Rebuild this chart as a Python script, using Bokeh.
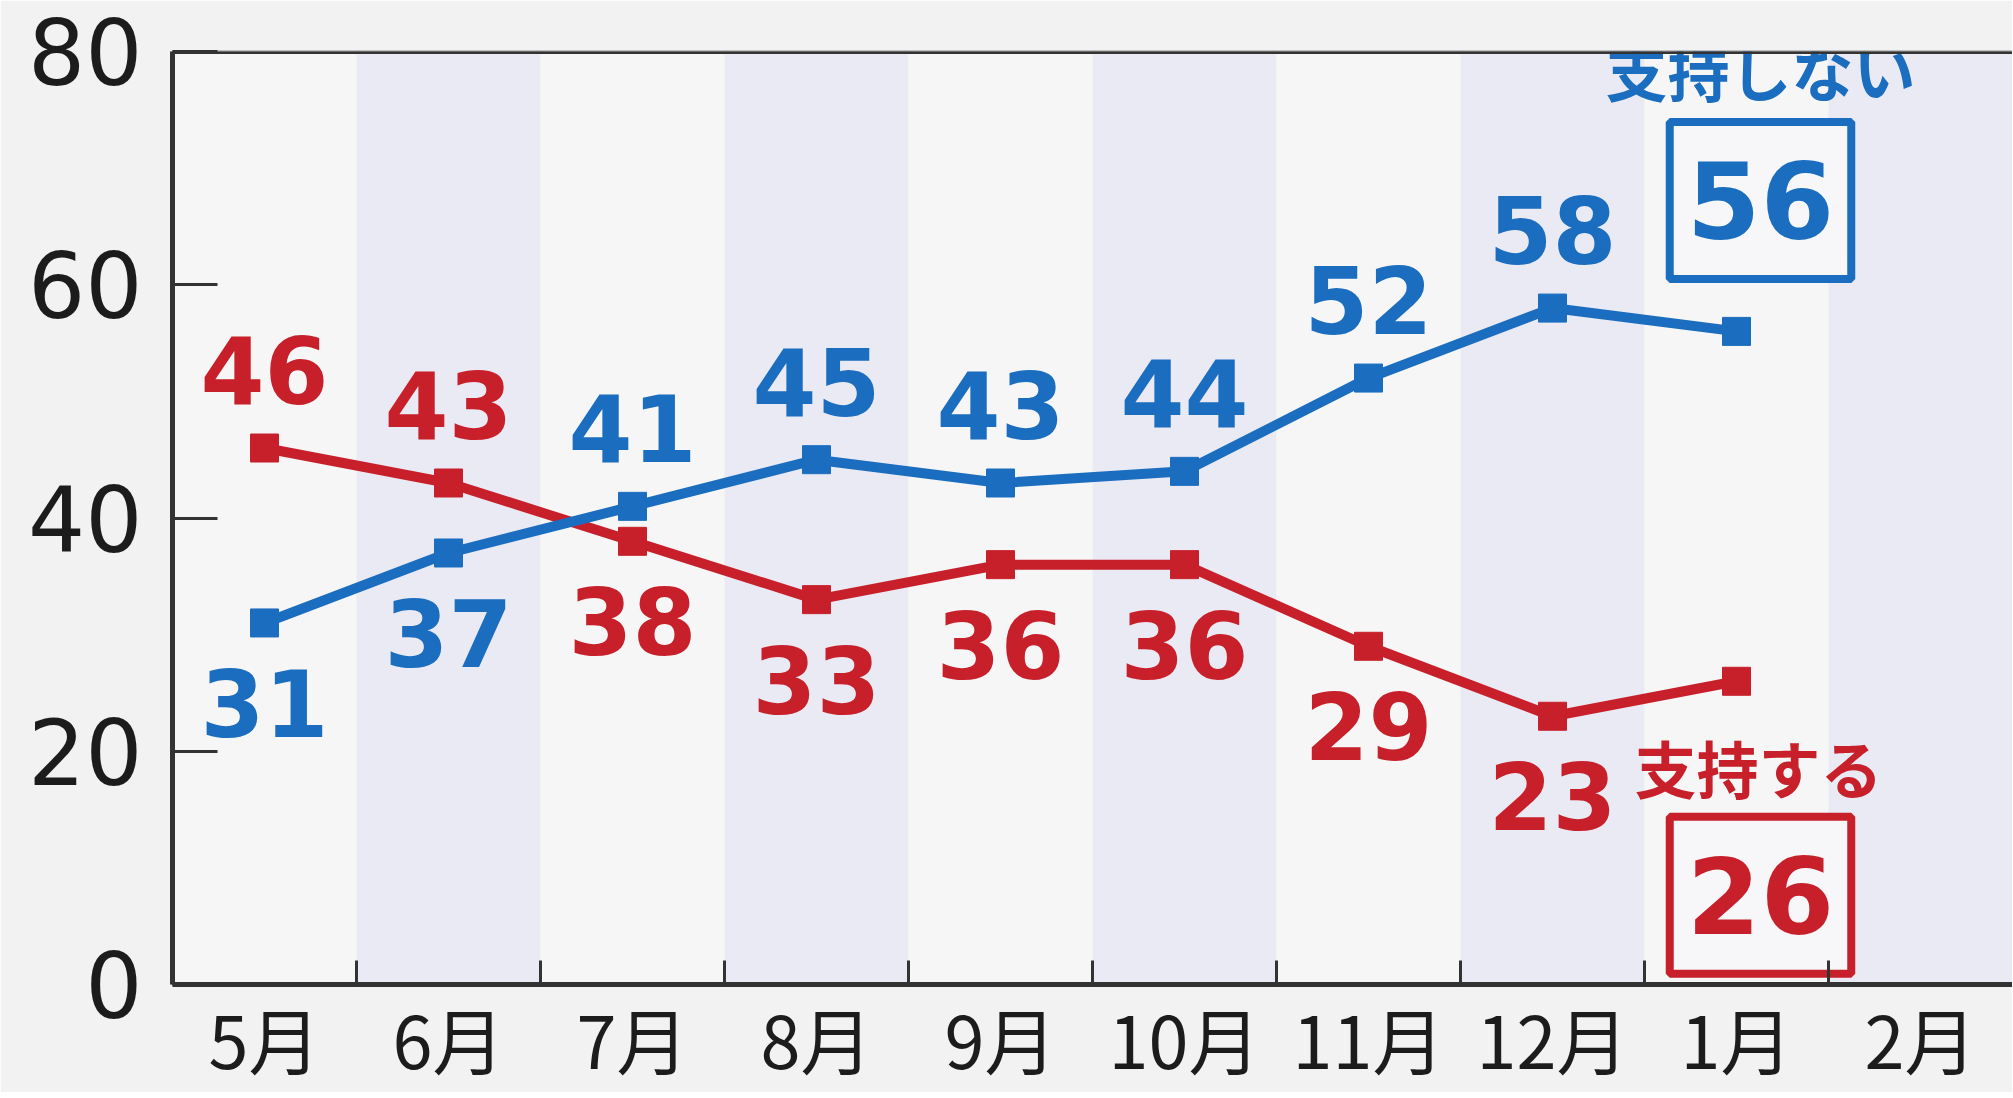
from bokeh.plotting import figure
from bokeh.models import Range1d, FixedTicker, CustomJSTickFormatter, ColumnDataSource, Span
from bokeh.core.properties import value
from bokeh.embed import file_html
from bokeh.resources import INLINE

# ---- data ----
months = ["5月", "6月", "7月", "8月", "9月", "10月", "11月", "12月", "1月", "2月"]
support = [46, 43, 38, 33, 36, 36, 29, 23, 26]          # 支持する
nonsupport = [31, 37, 41, 45, 43, 44, 52, 58, 56]       # 支持しない
support_name = "支持する"
nonsupport_name = "支持しない"
y_ticks = [0, 20, 40, 60, 80]

RED = "#c8202b"
BLUE = "#1a6dbf"
INK = "#1c1c1c"
AXIS = "#333333"

n = len(support)
xc = [i + 0.5 for i in range(len(months))]
x = xc[:n]

p = figure(frame_width=1840, frame_height=933,
           x_range=Range1d(0, len(months)), y_range=Range1d(0, y_ticks[-1]),
           output_backend="svg", toolbar_location=None,
           min_border_left=172, min_border_top=51, min_border_right=0, min_border_bottom=4)
p.background_fill_color = "#f6f6f6"
p.border_fill_color = "#f2f2f2"
p.grid.visible = False
p.outline_line_color = "#8a8a8a"
p.outline_line_width = 2

# alternating month bands
band_colors = ["#f6f6f6" if i % 2 == 0 else "#eaeaf4" for i in range(len(months))]
p.vbar(x=xc, bottom=0, top=y_ticks[-1], width=1, fill_color=band_colors, line_color=None)

p.add_layout(Span(location=y_ticks[-1], dimension="width", line_color=AXIS, line_width=5))

# lines + markers
for vals, col in ((support, RED), (nonsupport, BLUE)):
    p.line(x, vals, line_color=col, line_width=10)
    p.scatter(x, vals, marker="square", size=28, fill_color=col, line_color=col)

# point labels (all but the last month): above if the series is higher than the other
def label_source(vals, other):
    xs, ys, ts, offs = [], [], [], []
    for i in range(n - 1):
        xs.append(x[i]); ys.append(vals[i]); ts.append(str(vals[i]))
        offs.append(-78 if vals[i] > other[i] else 80)
    return ColumnDataSource(dict(x=xs, y=ys, t=ts, off=offs))

for vals, other, col in ((support, nonsupport, RED), (nonsupport, support, BLUE)):
    src = label_source(vals, other)
    p.text(x="x", y="y", text="t", y_offset="off", source=src,
           text_align="center", text_baseline="middle",
           text_font=value("DejaVu Sans"), text_font_style="bold",
           text_font_size="92px", text_color=col)

# latest values in boxes + series names
box_pad = dict(left=17, right=17, top=40, bottom=40)
p.text(x=[x[-1]], y=[nonsupport[-1]], text=[str(nonsupport[-1])], x_offset=24, y_offset=-131,
       text_align="center", text_baseline="middle",
       text_font=value("DejaVu Sans"), text_font_style="bold", text_font_size="106px",
       text_color=BLUE, border_line_color=BLUE, border_line_width=8,
       background_fill_color="#f7f7f9", padding=box_pad)
p.text(x=[x[-1]], y=[support[-1]], text=[str(support[-1])], x_offset=24, y_offset=214,
       text_align="center", text_baseline="middle",
       text_font=value("DejaVu Sans"), text_font_style="bold", text_font_size="106px",
       text_color=RED, border_line_color=RED, border_line_width=8,
       background_fill_color="#f7f7f9", padding=box_pad)
p.text(x=[x[-1]], y=[nonsupport[-1]], text=[nonsupport_name], x_offset=24, y_offset=-261,
       text_align="center", text_baseline="middle",
       text_font=value("Noto Sans CJK JP"), text_font_style="bold", text_font_size="62px",
       text_color=BLUE)
p.text(x=[x[-1]], y=[support[-1]], text=[support_name], x_offset=22, y_offset=86,
       text_align="center", text_baseline="middle",
       text_font=value("Noto Sans CJK JP"), text_font_style="bold", text_font_size="62px",
       text_color=RED)

# x axis
xa = p.xaxis[0]
xa.ticker = FixedTicker(ticks=xc, minor_ticks=list(range(1, len(months))))
xa.formatter = CustomJSTickFormatter(args=dict(labels=months),
                                     code="return labels[Math.floor(tick)];")
xa.major_tick_line_color = None
xa.major_tick_in = 0
xa.major_tick_out = 0
xa.minor_tick_in = 24
xa.minor_tick_out = 0
xa.minor_tick_line_color = AXIS
xa.minor_tick_line_width = 3
xa.axis_line_color = AXIS
xa.axis_line_width = 5
xa.major_label_text_font = "Noto Sans CJK JP"
xa.major_label_text_font_size = "72px"
xa.major_label_text_color = INK
xa.major_label_standoff = 0

# y axis
ya = p.yaxis[0]
ya.ticker = FixedTicker(ticks=y_ticks, minor_ticks=[])
ya.major_tick_in = 45
ya.major_tick_out = 0
ya.major_tick_line_color = AXIS
ya.major_tick_line_width = 3
ya.axis_line_color = AXIS
ya.axis_line_width = 5
ya.major_label_text_font = "DejaVu Sans"
ya.major_label_text_font_size = "90px"
ya.major_label_text_color = INK
ya.major_label_standoff = 30

open("out.html", "w").write(file_html(p, INLINE))
